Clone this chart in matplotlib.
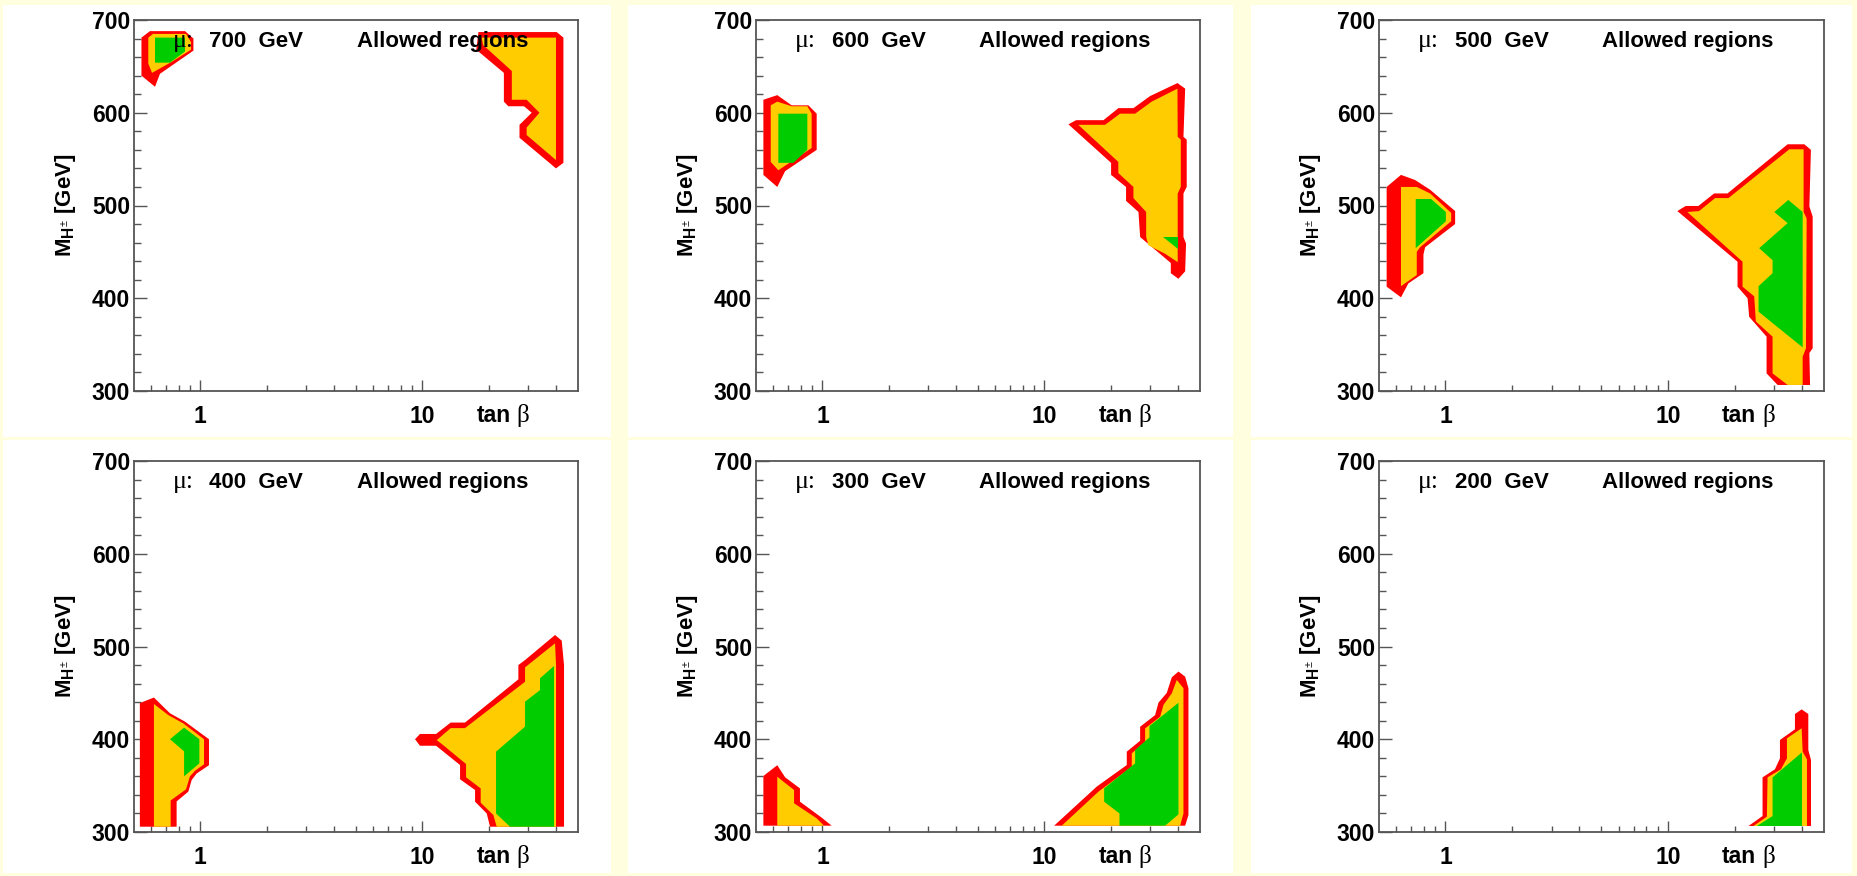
import matplotlib
matplotlib.use("Agg")
import matplotlib.pyplot as plt
from matplotlib.patches import Rectangle
from matplotlib.ticker import FixedLocator, MultipleLocator, NullFormatter

plt.rcParams['font.family'] = ['Liberation Sans', 'DejaVu Sans']
plt.rcParams['mathtext.fontset'] = 'custom'
plt.rcParams['mathtext.rm'] = 'Liberation Sans'
plt.rcParams['mathtext.bf'] = 'Liberation Sans:bold'
plt.rcParams['mathtext.it'] = 'Liberation Sans:italic'

# ---------------- data ----------------
mu_values = [700, 600, 500, 400, 300, 200]
x_range = (0.5, 50.0)
y_range = (300, 700)
x_major = [1, 10]
x_major_labels = ['1', '10']
x_minor = [0.6, 0.7, 0.8, 0.9, 2, 3, 4, 5, 6, 7, 8, 9, 20, 30, 40]
y_major = [300, 400, 500, 600, 700]
level_colors = ['#FF0000', '#FFCC00', '#00CC00']   # outer, middle, inner contour

# contour polygons: (tan beta, M_H+ [GeV])
mu700_red_low = [(0.543, 681), (0.593, 688), (0.853, 688), (0.931, 680), (0.931, 667),
                 (0.658, 642), (0.625, 628), (0.543, 640)]
mu700_yel_low = [(0.583, 681), (0.612, 685), (0.862, 685), (0.908, 676), (0.908, 668),
                 (0.745, 655), (0.606, 643), (0.583, 653)]
mu700_grn_low = [(0.625, 681), (0.853, 681), (0.853, 666), (0.730, 654), (0.625, 654)]
mu700_red_high = [(17.9, 687), (40.3, 687), (43.2, 681), (43.2, 546), (40.0, 540), (27.4, 573),
                  (27.4, 587), (31.1, 600), (28.7, 607), (24.4, 607), (23.3, 612), (23.3, 643),
                  (17.5, 668)]
mu700_yel_high = [(18.5, 681), (40.0, 681), (40.0, 549), (29.5, 576), (29.5, 584), (33.7, 600),
                  (29.5, 614), (25.3, 614), (25.3, 645), (18.8, 673)]
mu700_grn_high = []

mu600_red_low = [(0.542, 614), (0.626, 619), (0.727, 608), (0.864, 608), (0.942, 599),
                 (0.942, 560), (0.679, 537), (0.626, 520), (0.542, 533)]
mu600_yel_low = [(0.585, 608), (0.626, 612), (0.727, 607), (0.855, 607), (0.894, 599),
                 (0.894, 562), (0.633, 538), (0.585, 547)]
mu600_grn_low = [(0.633, 599), (0.855, 599), (0.855, 560), (0.740, 546), (0.633, 546)]
mu600_red_high = [(12.82, 587.5), (13.88, 592), (18.43, 592), (21.53, 605), (25.15, 605),
                  (29.9, 618), (39.7, 632), (43.0, 626), (42.25, 574), (43.7, 571), (43.7, 520),
                  (42.25, 513), (42.25, 466), (43.4, 459), (43.0, 429), (40.1, 421), (37.06, 427),
                  (37.06, 438), (26.96, 466), (26.5, 493), (23.3, 505), (23.3, 520), (19.95, 533),
                  (19.95, 546)]
mu600_yel_high = [(14.2, 587), (18.75, 587), (21.9, 599), (25.6, 599), (30.4, 612), (39.7, 626),
                  (39.8, 574), (41.1, 571), (41.1, 520), (39.8, 513), (39.8, 439), (34.9, 448),
                  (29.4, 457), (28.7, 466), (28.7, 493), (25.15, 508), (25.15, 520), (21.5, 535),
                  (21.5, 547)]
mu600_grn_high = [(34.3, 466), (39.8, 466), (39.8, 453.5)]

mu500_red_low = [(0.544, 520), (0.631, 533), (0.730, 527.5), (0.853, 517), (1.105, 494),
                 (1.105, 480), (0.810, 455), (0.796, 447), (0.796, 427), (0.681, 416),
                 (0.631, 401), (0.544, 412.5)]
mu500_yel_low = [(0.631, 520), (0.743, 520), (0.853, 513), (1.061, 492), (1.061, 483),
                 (0.769, 455), (0.743, 450), (0.743, 425), (0.631, 413)]
mu500_grn_low = [(0.735, 507), (0.862, 507), (1.004, 493), (1.004, 483), (0.735, 454)]
mu500_red_high = [(11.02, 494), (12.01, 499.5), (13.70, 499.5), (16.12, 513), (18.51, 513),
                  (34.5, 566), (41.0, 566), (43.9, 560), (43.2, 499), (44.7, 488), (44.7, 346),
                  (43.2, 341), (43.5, 306.5), (31.1, 306.5), (27.74, 319), (27.74, 358.6),
                  (23.17, 380), (22.79, 400), (20.54, 412.5), (20.54, 439.4)]
mu500_yel_high = [(12.22, 493), (13.8, 494), (16.29, 508), (18.7, 508), (35.1, 560.6),
                  (40.7, 560.6), (40.7, 493), (42.0, 486), (41.7, 346), (40.3, 337),
                  (40.3, 306.5), (34.5, 306.5), (29.52, 319), (29.52, 358.6), (24.83, 375),
                  (24.41, 402), (21.63, 412.5), (21.63, 439.4)]
mu500_grn_high = [(34.73, 506), (40.3, 493), (40.3, 347), (25.53, 385.5), (25.53, 413),
                  (29.52, 427), (29.52, 441), (25.7, 454), (34.5, 481), (30.04, 493)]

mu400_red_low = [(0.534, 439), (0.618, 445), (0.730, 428), (0.853, 419), (1.094, 400),
                 (1.094, 372), (0.962, 363), (0.914, 356), (0.883, 343.5), (0.782, 333),
                 (0.782, 305.7), (0.534, 305.7)]
mu400_yel_low = [(0.618, 438), (0.718, 426), (0.839, 417), (1.039, 400), (1.039, 373),
                 (0.946, 366), (0.898, 360), (0.862, 346), (0.735, 334), (0.735, 305.7),
                 (0.618, 305.7)]
mu400_grn_low = [(0.730, 400), (0.845, 412.5), (0.990, 400), (0.990, 374), (0.845, 360),
                 (0.845, 387)]
mu400_red_high = [(9.27, 400), (9.76, 405.7), (11.53, 405.7), (13.42, 418), (15.57, 418),
                  (27.08, 464.6), (27.08, 480), (29.02, 485.4), (39.61, 512.4), (42.45, 506.3),
                  (43.48, 480), (43.48, 305.7), (20.18, 305.7), (19.5, 320), (17.28, 332.7),
                  (17.28, 345.3), (14.79, 356.8), (14.79, 372.2), (11.53, 393), (9.76, 393)]
mu400_yel_high = [(11.61, 399), (13.42, 412), (15.57, 412), (29.02, 462), (29.02, 477.5),
                  (39.61, 503.4), (40.02, 480), (40.02, 305.7), (21.63, 305.7), (20.89, 318.3),
                  (18.32, 331.6), (18.32, 347), (15.74, 359), (15.74, 373.3), (12.22, 395)]
mu400_grn_high = [(39.2, 479), (39.2, 305.7), (24.83, 305.7), (21.48, 320), (21.48, 386.6),
                  (29.02, 413.6), (29.02, 440.5), (33.89, 453), (33.89, 465.7)]

mu300_red_low = [(0.542, 360.4), (0.626, 372), (0.679, 359), (0.792, 347), (0.792, 332.7),
                 (0.993, 315.4), (1.100, 306.8), (0.542, 306.8)]
mu300_yel_low = [(0.626, 359.6), (0.667, 354.3), (0.745, 345.3), (0.745, 331), (0.942, 314.7),
                 (1.017, 306.8), (0.626, 306.8)]
mu300_grn_low = []
mu300_red_high = [(11.05, 306.8), (17.2, 349), (23.47, 372.2), (23.47, 386.6), (26.96, 398.4),
                  (26.96, 413.5), (31.49, 426), (32.6, 439.4), (35.54, 450), (37.44, 466.8),
                  (40.12, 473), (43.0, 467.5), (44.49, 455), (44.49, 318.3), (43.0, 306.8)]
mu300_yel_high = [(11.96, 306.8), (17.5, 343.5), (24.72, 370.4), (24.72, 384.8), (28.39, 397.4),
                  (28.39, 411.7), (33.17, 424.3), (34.34, 437), (37.44, 449.5), (39.43, 464),
                  (42.25, 455), (42.25, 320), (40.82, 306.8)]
mu300_grn_high = [(18.56, 347), (25.59, 374), (25.59, 388.4), (29.7, 402), (29.7, 414.2),
                  (40.12, 439.4), (40.12, 319), (34.93, 306.8), (21.76, 306.8), (21.76, 320),
                  (18.56, 332.7)]

mu200_red_low = []
mu200_yel_low = []
mu200_grn_low = []
mu200_red_high = [(23.01, 306.5), (26.61, 317.2), (26.61, 358.9), (30.24, 367.6), (31.86, 379.4),
                  (31.86, 399.2), (37.21, 410.7), (37.21, 427.2), (39.88, 432.2), (42.73, 427.2),
                  (42.73, 388.4), (43.93, 377.6), (43.93, 306.5)]
mu200_yel_high = [(24.24, 306.5), (27.83, 316.5), (28.03, 358.9), (32.19, 367.6), (34.25, 379.4),
                  (34.25, 401), (39.88, 411.8), (40.3, 386.6), (42.14, 378.3), (42.14, 306.5)]
mu200_grn_high = [(25.09, 306.5), (29.52, 317.2), (29.52, 358.9), (40.02, 385.9), (40.02, 306.5)]

regions = {
    700: [mu700_red_low, mu700_yel_low, mu700_grn_low, mu700_red_high, mu700_yel_high, mu700_grn_high],
    600: [mu600_red_low, mu600_yel_low, mu600_grn_low, mu600_red_high, mu600_yel_high, mu600_grn_high],
    500: [mu500_red_low, mu500_yel_low, mu500_grn_low, mu500_red_high, mu500_yel_high, mu500_grn_high],
    400: [mu400_red_low, mu400_yel_low, mu400_grn_low, mu400_red_high, mu400_yel_high, mu400_grn_high],
    300: [mu300_red_low, mu300_yel_low, mu300_grn_low, mu300_red_high, mu300_yel_high, mu300_grn_high],
    200: [mu200_red_low, mu200_yel_low, mu200_grn_low, mu200_red_high, mu200_yel_high, mu200_grn_high],
}

# ---------------- layout (pixels) ----------------
W, H = 1857, 876
fig = plt.figure(figsize=(W / 100, H / 100), dpi=100, facecolor='#FFFFE0')

pad_cols = [(3, 611), (628, 1233), (1251, 1852)]
pad_rows = [(5, 437), (440, 873)]
ax_cols = [(133.5, 577.5), (755.6, 1199.7), (1378.5, 1823.5)]
ax_rows = [(20, 391), (461, 832)]

for (x0, x1) in pad_cols:
    for (y0, y1) in pad_rows:
        fig.patches.append(Rectangle((x0 / W, 1 - y1 / H), (x1 - x0) / W, (y1 - y0) / H,
                                     transform=fig.transFigure, facecolor='white',
                                     edgecolor='none', zorder=-5))

frame_col = '#555555'
for i, mu in enumerate(mu_values):
    r, c = divmod(i, 3)
    xl, xr = ax_cols[c]
    yt, yb = ax_rows[r]
    ax = fig.add_axes([xl / W, 1 - yb / H, (xr - xl) / W, (yb - yt) / H])
    ax.set_zorder(2)
    ax.set_facecolor('white')
    ax.set_xscale('log')
    ax.set_xlim(*x_range)
    ax.set_ylim(*y_range)

    polys = regions[mu]
    for k, poly in enumerate(polys):
        if not poly:
            continue
        ts = [p[0] for p in poly]
        ms = [p[1] for p in poly]
        ax.fill(ts, ms, facecolor=level_colors[k % 3], edgecolor='none', zorder=2)

    # axes / ticks
    ax.xaxis.set_major_locator(FixedLocator(x_major))
    ax.set_xticklabels(x_major_labels)
    ax.xaxis.set_minor_locator(FixedLocator(x_minor))
    ax.xaxis.set_minor_formatter(NullFormatter())
    ax.yaxis.set_major_locator(FixedLocator(y_major))
    ax.yaxis.set_minor_locator(MultipleLocator(20))
    ax.tick_params(axis='x', which='major', direction='in', length=8, width=1.0,
                   color=frame_col, labelsize=16.5, pad=10)
    ax.tick_params(axis='x', which='minor', direction='in', length=4.3, width=1.0,
                   color=frame_col)
    ax.tick_params(axis='y', which='major', direction='in', length=9.5, width=1.0,
                   color=frame_col, labelsize=16.5, pad=2.5)
    ax.tick_params(axis='y', which='minor', direction='in', length=4.8, width=1.0,
                   color=frame_col)
    for lab in ax.get_xticklabels() + ax.get_yticklabels():
        lab.set_fontweight('bold')
    for sp in ax.spines.values():
        sp.set_color(frame_col)
        sp.set_linewidth(1.3)

    ax.set_ylabel(r'$\mathbf{M}_{\mathbf{H}^{\pm}}$ [GeV]', fontsize=16, fontweight='bold')
    ax.yaxis.set_label_coords(-0.125, 0.5)

    ax.text(0.772, -0.084, 'tan', transform=ax.transAxes, fontsize=16.5, fontweight='bold',
            ha='left', va='baseline')
    ax.text(0.862, -0.084, '\u03b2', transform=ax.transAxes, fontsize=18,
            family=['Liberation Serif', 'DejaVu Serif'], ha='left', va='baseline')

    ax.text(0.088, 0.927, '\u03bc:', transform=ax.transAxes, fontsize=18.5,
            family=['Liberation Serif', 'DejaVu Serif'], ha='left', va='baseline', zorder=5)
    ax.text(0.171, 0.927, f'{mu}  GeV', transform=ax.transAxes, fontsize=16,
            fontweight='bold', ha='left', va='baseline', zorder=5)
    ax.text(0.503, 0.927, 'Allowed regions', transform=ax.transAxes, fontsize=16,
            fontweight='bold', ha='left', va='baseline', zorder=5)

fig.savefig('out.png', dpi=100, facecolor=fig.get_facecolor())
